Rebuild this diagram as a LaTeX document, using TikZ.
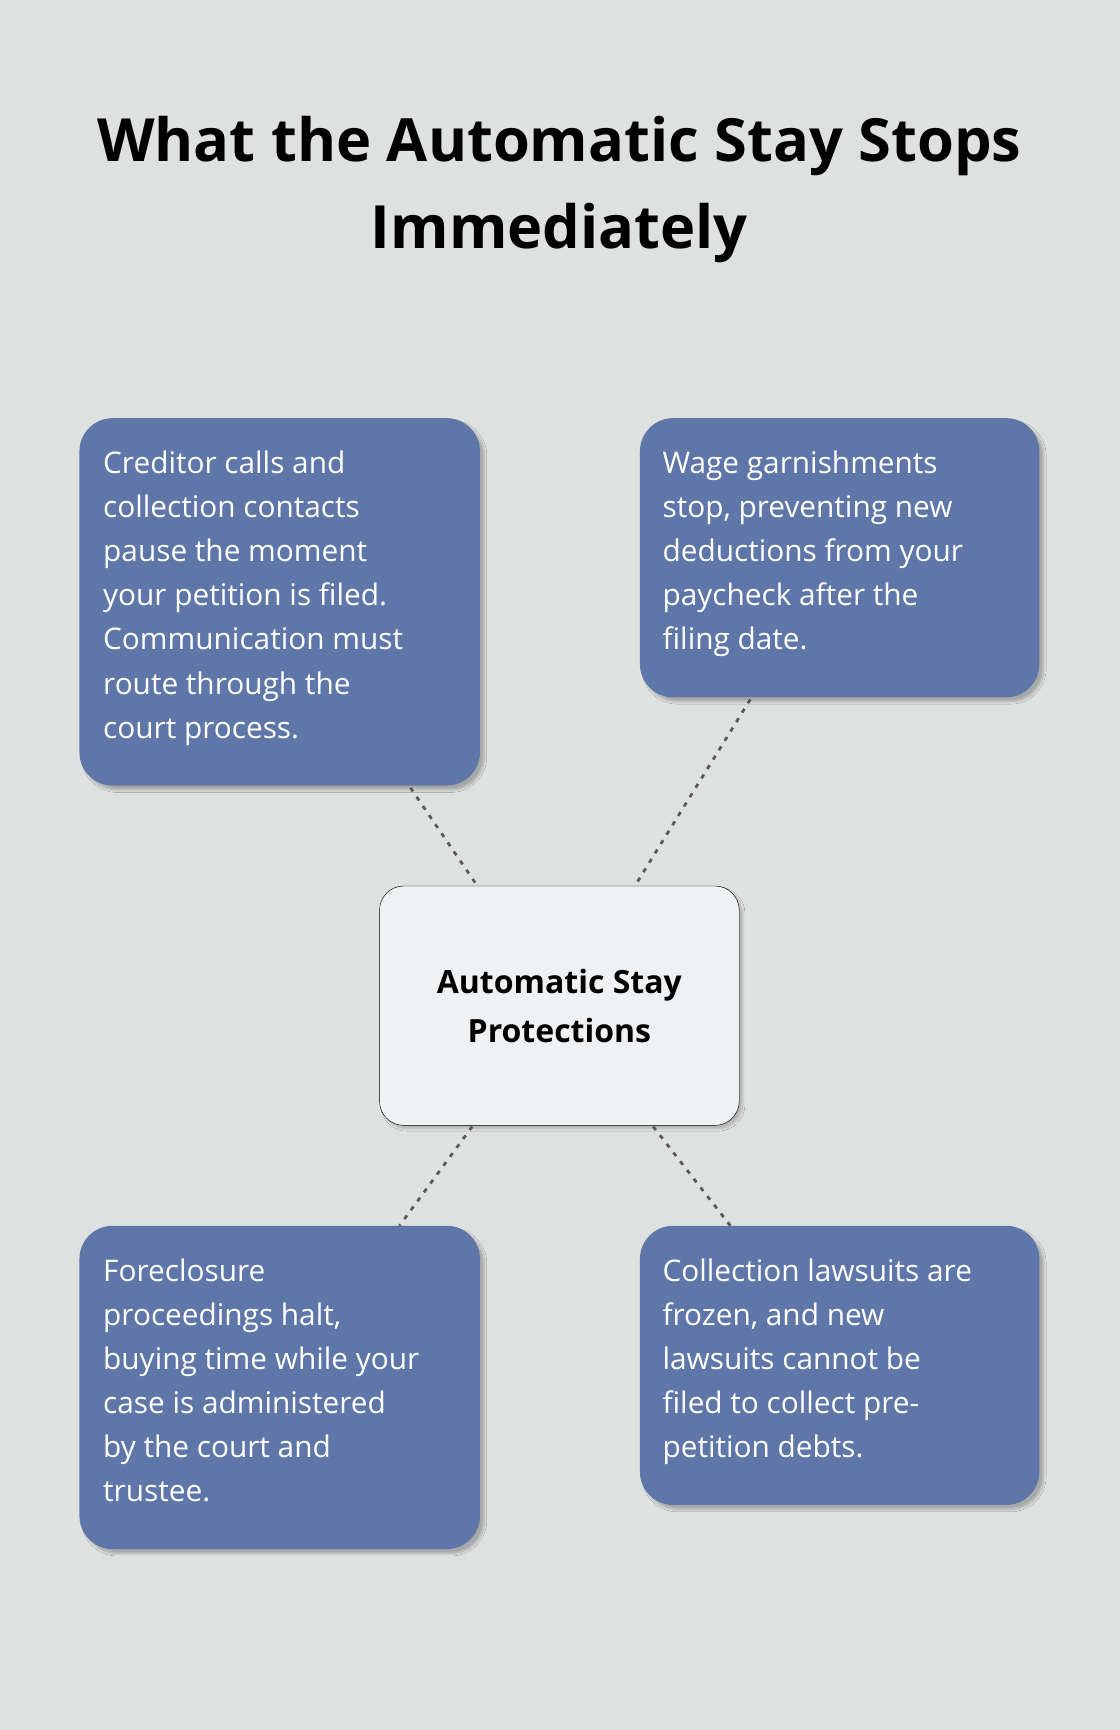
\documentclass[tikz,border=0pt]{standalone}
\usepackage{fontspec}
\setmainfont{Open Sans}
\usetikzlibrary{positioning,shadows.blur}
\definecolor{bgcol}{HTML}{DFE1E0}
\definecolor{cardcol}{HTML}{5E77A8}
\definecolor{hubcol}{HTML}{F0F1F3}
\tikzset{
card/.style={draw=none, fill=cardcol, rounded corners=30pt, blur shadow={shadow blur steps=8, shadow xshift=4pt, shadow yshift=-4pt, shadow opacity=25}},
cardtext/.style={text=white, align=left, anchor=north west, font=\fontsize{27}{40}\selectfont},
hub/.style={fill=hubcol, rounded corners=22pt, blur shadow={shadow blur steps=8, shadow xshift=3pt, shadow yshift=-3pt, shadow opacity=20}},
link/.style={draw=black!65, line width=2.5pt, dash pattern=on 4pt off 6pt},
}
\begin{document}
\begin{tikzpicture}[x=1pt,y=-1pt]
\fill[bgcol] (0,0) rectangle (1015,1568);
\useasboundingbox (0,0) rectangle (1015,1568);
\node[font=\fontsize{54}{79}\selectfont\bfseries, align=center] (title) at (507,172) {What the Automatic Stay Stops\\Immediately};
% cards
\draw[card] (72,379) rectangle (435,712);
\draw[card] (580,379) rectangle (942,632);
\draw[card] (72,1111) rectangle (435,1404);
\draw[card] (580,1111) rectangle (942,1364);
\draw[hub] (344,803) rectangle (670,1020);
\node[cardtext] (tl) at (90,405) {Creditor calls and\\collection contacts\\pause the moment\\your petition is filed.\\Communication must\\route through the\\court process.};
\node[cardtext] (tr) at (597,405) {Wage garnishments\\stop, preventing new\\deductions from your\\paycheck after the\\filing date.};
\node[cardtext] (bl) at (90,1137) {Foreclosure\\proceedings halt,\\buying time while your\\case is administered\\by the court and\\trustee.};
\node[cardtext] (br) at (597,1137) {Collection lawsuits are\\frozen, and new\\lawsuits cannot be\\filed to collect pre-\\petition debts.};
\node[font=\fontsize{29}{44}\selectfont\bfseries, align=center] (hubtext) at (507,912) {Automatic Stay\\Protections};
% connectors
\coordinate (tlend) at (372,714); \coordinate (tlhub) at (432,802);
\coordinate (trend) at (680,634); \coordinate (trhub) at (576,802);
\coordinate (blend) at (362,1111); \coordinate (blhub) at (428,1021);
\coordinate (brend) at (662,1111); \coordinate (brhub) at (592,1021);
\draw[link] (tlend) -- (tlhub);
\draw[link] (trend) -- (trhub);
\draw[link] (blhub) -- (blend);
\draw[link] (brhub) -- (brend);
\end{tikzpicture}
\end{document}
